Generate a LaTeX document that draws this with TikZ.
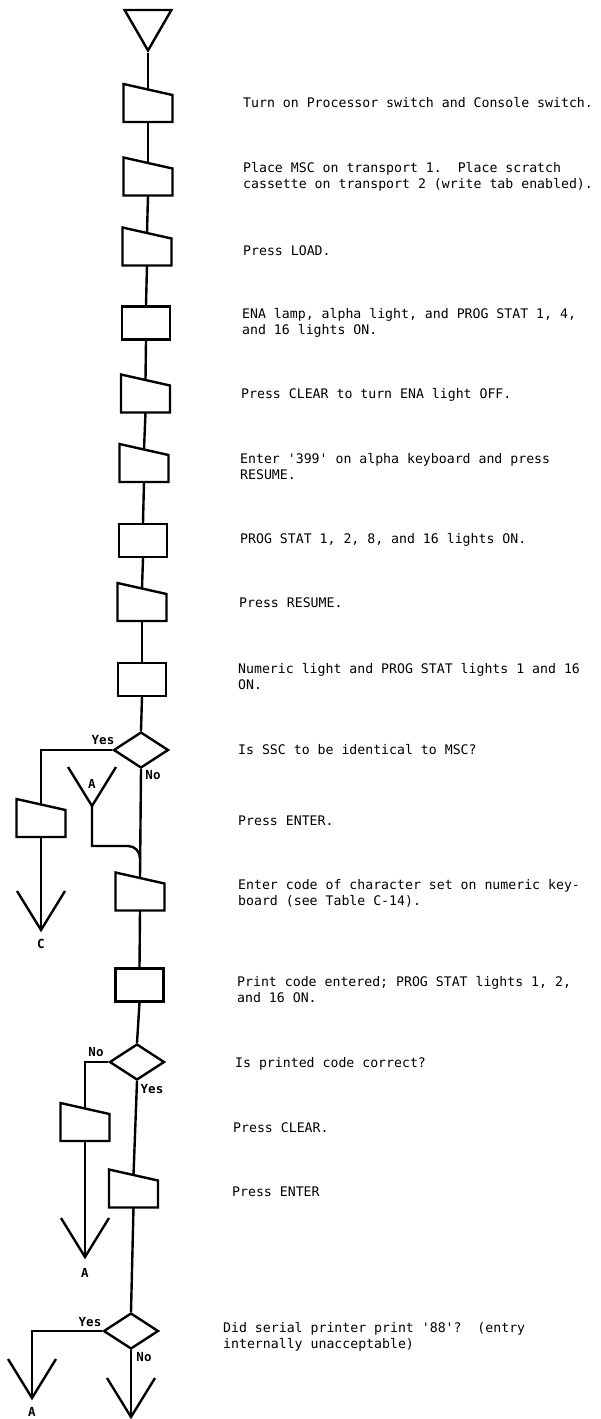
\documentclass[tikz,border=0pt]{standalone}
\usepackage{fontspec}
\usepackage{tikz}
\usetikzlibrary{shapes.geometric, positioning}
\newfontfamily\gothic{DejaVu Sans Mono}
\frenchspacing

\begin{document}
\begin{tikzpicture}[x=1pt, y=1pt,
    flow/.style={draw, line width=2.4pt},
    process/.style={draw, line width=2.4pt, rectangle, minimum width=48pt, minimum height=33pt, inner sep=0pt},
    manual/.style={rectangle, minimum width=49pt, minimum height=38pt, inner sep=0pt, outer sep=0pt},
    decision/.style={draw, line width=2.4pt, diamond, aspect=1.5, minimum width=55pt, minimum height=36pt, inner sep=0pt},
    note/.style={anchor=west, align=left, inner sep=0pt, font=\gothic\fontsize{13.2}{16}\selectfont},
    tag/.style={inner sep=0pt, font=\gothic\bfseries\fontsize{12.5}{14}\selectfont}]
  \useasboundingbox (0,0) rectangle (601,-1419);

  % main column
  \node[draw, line width=2.4pt, regular polygon, regular polygon sides=3, shape border rotate=180, minimum size=54pt, inner sep=0pt] (start) at (148,-23.5) {};
  \node[manual] (m1) at (148,-103) {};
  \node[manual] (m2) at (148,-176.5) {};
  \node[manual] (m3) at (147,-246.5) {};
  \node[process] (p4) at (146,-323) {};
  \node[manual] (m5) at (145.5,-393.5) {};
  \node[manual] (m6) at (144,-463) {};
  \node[process] (p7) at (143,-540.5) {};
  \node[manual] (m8) at (142,-602) {};
  \node[process] (p9) at (142,-679.5) {};
  \node[decision] (d10) at (141,-750) {};
  \node[manual] (m12) at (140,-891.5) {};
  \node[process] (p13) at (139.5,-985) {};
  \node[decision] (d14) at (137,-1062) {};
  \node[manual] (m16) at (133.5,-1188.5) {};
  \node[decision] (d17) at (131,-1331) {};
  \coordinate (vend) at (131,-1417);

  % side branches
  \node[manual] (mC) at (41,-818) {};
  \coordinate (vC) at (41,-930);
  \node[tag] (lC) at (41,-944) {C};
  \coordinate (vA1) at (92,-806);
  \node[tag] (lA1) at (92,-784) {A};
  \coordinate (jn) at (140,-846);
  \node[manual] (mL) at (85,-1122) {};
  \coordinate (vA2) at (85,-1257);
  \node[tag] (lA2) at (85,-1273) {A};
  \coordinate (vA3) at (32,-1398);
  \node[tag] (lA3) at (32,-1412) {A};

  \node[tag] (y10) at (103,-740) {Yes};
  \node[tag] (n10) at (153,-775) {No};
  \node[tag] (n14) at (96,-1052) {No};
  \node[tag] (y14) at (152,-1089) {Yes};
  \node[tag] (y17) at (90,-1322) {Yes};
  \node[tag] (n17) at (144,-1357) {No};

  % manual input boxes
  \foreach \n in {m1,m2,m3,m5,m6,m8,m12,m16,mC,mL}
    \draw[flow] (\n.north west) -- ([yshift=-11pt]\n.north east) -- (\n.south east) -- (\n.south west) -- cycle;

  % connector heads
  \foreach \v in {vC,vA1,vA2,vA3,vend}
    \draw[flow] ([shift={(-24pt,39pt)}]\v) -- (\v) -- ([shift={(24pt,39pt)}]\v);

  % flow lines
  \draw[flow] (start.south) -- ([yshift=-5.5pt]m1.north);
  \draw[flow] (m1.south) -- ([yshift=-5.5pt]m2.north);
  \draw[flow] (m2.south) -- ([yshift=-5.5pt]m3.north);
  \draw[flow] (m3.south) -- (p4.north);
  \draw[flow] (p4.south) -- ([yshift=-5.5pt]m5.north);
  \draw[flow] (m5.south) -- ([yshift=-5.5pt]m6.north);
  \draw[flow] (m6.south) -- (p7.north);
  \draw[flow] (p7.south) -- ([yshift=-5.5pt]m8.north);
  \draw[flow] (m8.south) -- (p9.north);
  \draw[flow] (p9.south) -- (d10.north);
  \draw[flow] (d10.west) -| ([yshift=-5.5pt]mC.north);
  \draw[flow] (mC.south) -- (vC);
  \draw[flow] (d10.south) -- ([yshift=-5.5pt]m12.north);
  \draw[flow] (vA1) |- ([xshift=-12pt]jn) arc[start angle=90, end angle=0, radius=12pt];
  \draw[flow] (m12.south) -- (p13.north);
  \draw[flow] (p13.south) -- (d14.north);
  \draw[flow] (d14.west) -| ([yshift=-5.5pt]mL.north);
  \draw[flow] (mL.south) -- (vA2);
  \draw[flow] (d14.south) -- ([yshift=-5.5pt]m16.north);
  \draw[flow] (m16.south) -- (d17.north);
  \draw[flow] (d17.west) -| (vA3);
  \draw[flow] (d17.south) -- (vend);

  % step texts
  \node[note] (t1) at (243,-103) {Turn on Processor switch and Console switch.};
  \node[note] (t2) at (243,-177) {Place MSC on transport 1.~~Place scratch\\cassette on transport 2 (write tab enabled).};
  \node[note] (t3) at (243,-251) {Press LOAD.};
  \node[note] (t4) at (242,-323) {ENA lamp, alpha light, and PROG STAT 1, 4,\\and 16 lights ON.};
  \node[note] (t5) at (241,-395) {Press CLEAR to turn ENA light OFF.};
  \node[note] (t6) at (240,-467) {Enter '399' on alpha keyboard and press\\RESUME.};
  \node[note] (t7) at (240,-540) {PROG STAT 1, 2, 8, and 16 lights ON.};
  \node[note] (t8) at (239,-603) {Press RESUME.};
  \node[note] (t9) at (238,-677) {Numeric light and PROG STAT lights 1 and 16\\ON.};
  \node[note] (t10) at (238,-750) {Is SSC to be identical to MSC?};
  \node[note] (t11) at (238,-821) {Press ENTER.};
  \node[note] (t12) at (238,-893) {Enter code of character set on numeric key-\\board (see Table C-14).};
  \node[note] (t13) at (237,-990) {Print code entered; PROG STAT lights 1, 2,\\and 16 ON.};
  \node[note] (t14) at (235,-1064) {Is printed code correct?};
  \node[note] (t15) at (233,-1128) {Press CLEAR.};
  \node[note] (t16) at (232,-1192) {Press ENTER};
  \node[note] (t17) at (223,-1337) {Did serial printer print '88'?~~(entry\\internally unacceptable)};
\end{tikzpicture}
\end{document}
